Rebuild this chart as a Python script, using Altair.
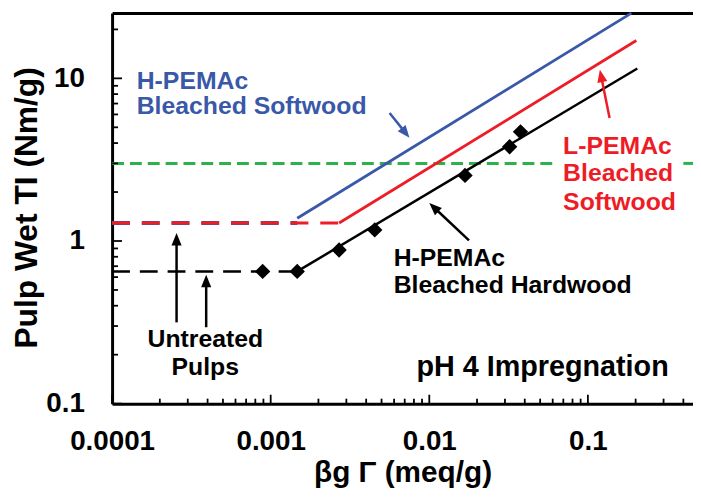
import math
import altair as alt
import pandas as pd

# ---------------- data ----------------
# untreated hardwood (black dashed)
hw_dash_x = [0.0001, 0.00147]
hw_dash_y = [0.65, 0.65]
# H-PEMAc bleached hardwood (black solid)
hw_line_x = [0.00147, 0.205]
hw_line_y = [0.65, 11.5]
hw_pts_x = [0.00089, 0.00147, 0.0027, 0.00453, 0.0168, 0.0321, 0.0376]
hw_pts_y = [0.65, 0.65, 0.88, 1.17, 2.53, 3.8, 4.69]
# untreated softwood (red / blue dashed)
sw_dash_red_x = [0.0001, 0.0027]
sw_dash_blue_x = [0.0001, 0.00147]
sw_dash_y = [1.29, 1.29]
# L-PEMAc bleached softwood (red solid)
lsw_line_x = [0.0027, 0.202]
lsw_line_y = [1.29, 17.1]
# H-PEMAc bleached softwood (blue solid)
hsw_line_x = [0.00147, 0.188]
hsw_line_y = [1.38, 25.2]
# green dashed reference level (two pieces, interrupted by label)
green_x = [0.0001, 0.0596, 0.40, 0.46]
green_y = [3.0, 3.0, 3.0, 3.0]
green_seg = [1, 1, 2, 2]

# arrows: tail -> tip
arrow_x0 = [0.000255, 0.000392, 0.00562, 0.137, 0.0178]
arrow_y0 = [0.316, 0.295, 6.12, 5.7, 1.01]
arrow_x1 = [0.000255, 0.000392, 0.0075, 0.119, 0.0100]
arrow_y1 = [1.12, 0.62, 4.31, 11.3, 1.71]
arrow_col = ["black", "black", "blue", "red", "black"]

# annotations
ann_text = ["H-PEMAc", "Bleached Softwood", "L-PEMAc", "Bleached", "Softwood",
            "H-PEMAc", "Bleached Hardwood", "Untreated", "Pulps"]
ann_x = [0.000143, 0.000143, 0.0698, 0.0698, 0.0698,
         0.00596, 0.00596, 0.000387, 0.000387]
ann_y = [9.59, 6.75, 3.85, 2.60, 1.73, 0.787, 0.539, 0.249, 0.168]
ann_col = ["blue", "blue", "red", "red", "red", "black", "black", "black", "black"]
ann_align = ["left", "left", "left", "left", "left", "left", "left", "center", "center"]
ph_text = ["pH 4 Impregnation"]
ph_x = [0.0083]
ph_y = [0.168]

x_major = [0.0001, 0.001, 0.01, 0.1]
x_minor = [m * d for d in [0.0001, 0.001, 0.01, 0.1] for m in range(2, 10) if m * d <= 0.46]
y_major = [0.1, 1, 10]
y_minor = [m * d for d in [0.1, 1, 10] for m in range(2, 10) if m * d <= 25.2]

# ---------------- style ----------------
COL = {"black": "#000000", "blue": "#3A58A8", "red": "#EE1C25", "green": "#2BB24C"}
FONT = "Liberation Sans"
W, H = 586, 394
XMIN, XMAX = 0.0001, 0.46
YMIN, YMAX = 0.1, 25.2
LX = W / math.log10(XMAX / XMIN)
LY = H / math.log10(YMAX / YMIN)

xs = alt.Scale(type="log", domain=[XMIN, XMAX], nice=False)
ys = alt.Scale(type="log", domain=[YMIN, YMAX], nice=False)

# ---------------- derived tables ----------------
def seg_df(xv, yv, grp=None):
    d = pd.DataFrame({"x": xv, "y": yv})
    d["g"] = grp if grp is not None else [0] * len(xv)
    return d

def heading(x0, y0, x1, y1):
    dx = (math.log10(x1) - math.log10(x0)) * LX
    dy = -(math.log10(y1) - math.log10(y0)) * LY
    return math.degrees(math.atan2(dx, -dy)) % 360

rows = []
for x0, y0, x1, y1, c in zip(arrow_x0, arrow_y0, arrow_x1, arrow_y1, arrow_col):
    ang = heading(x0, y0, x1, y1)
    lx0, ly0, lx1, ly1 = math.log10(x0), math.log10(y0), math.log10(x1), math.log10(y1)
    dxp, dyp = (lx1 - lx0) * LX, (ly1 - ly0) * LY
    L = math.hypot(dxp, dyp)
    back = 8.0 / L
    xe = 10 ** (lx1 - (lx1 - lx0) * back)
    ye = 10 ** (ly1 - (ly1 - ly0) * back)
    rows.append({"x0": x0, "y0": y0, "xe": xe, "ye": ye, "x1": x1, "y1": y1,
                 "ang": ang, "col": COL[c]})
arrows = pd.DataFrame(rows)

ann = pd.DataFrame({"t": ann_text, "x": ann_x, "y": ann_y,
                    "col": [COL[c] for c in ann_col], "al": ann_align})
ph = pd.DataFrame({"t": ph_text, "x": ph_x, "y": ph_y})
pts = pd.DataFrame({"x": hw_pts_x, "y": hw_pts_y})

# inward tick segments: start on the axis line, end a few pixels inside
def xtick_df(values, length):
    return pd.DataFrame({"x": values, "y": [YMIN] * len(values),
                         "y2": [10 ** (math.log10(YMIN) + length / LY)] * len(values)})

def ytick_df(values, length):
    return pd.DataFrame({"y": values, "x": [XMIN] * len(values),
                         "x2": [10 ** (math.log10(XMIN) + length / LX)] * len(values)})

xt = pd.concat([xtick_df(x_minor, 5), xtick_df(x_major, 9)], ignore_index=True)
yt = pd.concat([ytick_df(y_minor, 6), ytick_df(y_major, 10)], ignore_index=True)

# ---------------- axes ----------------
x_main = alt.Axis(orient="bottom", values=x_major, format="~g", ticks=False, tickSize=0,
                  domain=True, domainColor="black", domainWidth=3, grid=False,
                  labelFont=FONT, labelFontSize=28, labelFontWeight="bold", labelColor="black",
                  labelPadding=24, labelFlush=False, labelOverlap=False,
                  title="βg Γ (meq/g)", titleFont=FONT, titleFontSize=30, titleFontWeight="bold",
                  titleColor="black", titleX=W / 2, titleY=79, titleBaseline="alphabetic",
                  titleAlign="center")
y_main = alt.Axis(orient="left", values=y_major, format="~g", ticks=False, tickSize=0,
                  domain=True, domainColor="black", domainWidth=3, grid=False,
                  labelFont=FONT, labelFontSize=28, labelFontWeight="bold", labelColor="black",
                  labelPadding=28, labelFlush=False, labelOverlap=False, labelBaseline="middle",
                  title="Pulp Wet TI (Nm/g)", titleFont=FONT, titleFontSize=32, titleFontWeight="bold",
                  titleColor="black", titleX=-76, titleY=196, titleAngle=270,
                  titleBaseline="alphabetic", titleAlign="center")
x_top = alt.Axis(orient="top", labels=False, ticks=False, domain=True, domainColor="black",
                 domainWidth=3, grid=False, title=None)

# ---------------- layers ----------------
green = alt.Chart(seg_df(green_x, green_y, green_seg)).mark_line(
    color=COL["green"], strokeWidth=3, strokeDash=[12, 6]).encode(
    x=alt.X("x:Q", scale=xs, axis=x_main), y=alt.Y("y:Q", scale=ys, axis=y_main),
    detail="g:N")

blue_dash = alt.Chart(seg_df(sw_dash_blue_x, sw_dash_y)).mark_line(
    color=COL["blue"], strokeWidth=4, strokeDash=[18, 12]).encode(
    x=alt.X("x:Q", scale=xs, axis=x_top), y=alt.Y("y:Q", scale=ys, axis=None))

red_dash = alt.Chart(seg_df(sw_dash_red_x, sw_dash_y)).mark_line(
    color=COL["red"], strokeWidth=3.2, strokeDash=[18, 12]).encode(
    x=alt.X("x:Q", scale=xs, axis=None), y=alt.Y("y:Q", scale=ys, axis=None))

blue_line = alt.Chart(seg_df(hsw_line_x, hsw_line_y)).mark_line(
    color=COL["blue"], strokeWidth=2.8).encode(
    x=alt.X("x:Q", scale=xs, axis=None), y=alt.Y("y:Q", scale=ys, axis=None))

red_line = alt.Chart(seg_df(lsw_line_x, lsw_line_y)).mark_line(
    color=COL["red"], strokeWidth=2.8).encode(
    x=alt.X("x:Q", scale=xs, axis=None), y=alt.Y("y:Q", scale=ys, axis=None))

black_dash = alt.Chart(seg_df(hw_dash_x, hw_dash_y)).mark_line(
    color="black", strokeWidth=2.5, strokeDash=[18, 10]).encode(
    x=alt.X("x:Q", scale=xs, axis=None), y=alt.Y("y:Q", scale=ys, axis=None))

black_line = alt.Chart(seg_df(hw_line_x, hw_line_y)).mark_line(
    color="black", strokeWidth=2.5).encode(
    x=alt.X("x:Q", scale=xs, axis=None), y=alt.Y("y:Q", scale=ys, axis=None))

diamonds = alt.Chart(pts).mark_point(
    shape="diamond", filled=True, color="black", opacity=1, size=240).encode(
    x=alt.X("x:Q", scale=xs, axis=None), y=alt.Y("y:Q", scale=ys, axis=None))

arrow_shafts = alt.Chart(arrows).mark_rule(strokeWidth=2.5).encode(
    x=alt.X("x0:Q", scale=xs, axis=None), y=alt.Y("y0:Q", scale=ys, axis=None),
    x2="xe:Q", y2="ye:Q", color=alt.Color("col:N", scale=None))

arrow_heads = alt.Chart(arrows).mark_point(
    shape="M0,0L0.85,2.1L-0.85,2.1Z", filled=True, opacity=1, size=144).encode(
    x=alt.X("x1:Q", scale=xs, axis=None), y=alt.Y("y1:Q", scale=ys, axis=None),
    angle=alt.Angle("ang:Q", scale=None), color=alt.Color("col:N", scale=None))

x_tick_marks = alt.Chart(xt).mark_rule(color="black", strokeWidth=1.8).encode(
    x=alt.X("x:Q", scale=xs, axis=None), y=alt.Y("y:Q", scale=ys, axis=None), y2="y2:Q")

y_tick_marks = alt.Chart(yt).mark_rule(color="black", strokeWidth=1.8).encode(
    y=alt.Y("y:Q", scale=ys, axis=None), x=alt.X("x:Q", scale=xs, axis=None), x2="x2:Q")

labels_left = alt.Chart(ann).transform_filter("datum.al == 'left'").mark_text(
    font=FONT, fontSize=25, fontWeight="bold", align="left", baseline="middle").encode(
    x=alt.X("x:Q", scale=xs, axis=None), y=alt.Y("y:Q", scale=ys, axis=None),
    text="t:N", color=alt.Color("col:N", scale=None))

labels_center = alt.Chart(ann).transform_filter("datum.al == 'center'").mark_text(
    font=FONT, fontSize=25, fontWeight="bold", align="center", baseline="middle").encode(
    x=alt.X("x:Q", scale=xs, axis=None), y=alt.Y("y:Q", scale=ys, axis=None),
    text="t:N", color=alt.Color("col:N", scale=None))

ph_label = alt.Chart(ph).mark_text(
    font=FONT, fontSize=29, fontWeight="bold", align="left", baseline="middle",
    color="black").encode(
    x=alt.X("x:Q", scale=xs, axis=None), y=alt.Y("y:Q", scale=ys, axis=None), text="t:N")

chart = alt.layer(
    green, blue_dash, red_dash, blue_line, red_line, black_dash, black_line,
    diamonds, arrow_shafts, arrow_heads, x_tick_marks, y_tick_marks,
    labels_left, labels_center, ph_label
).resolve_axis(x="independent", y="independent").properties(
    width=W, height=H,
    autosize=alt.AutoSizeParams(type="none"),
    padding={"left": 105, "top": 3, "right": 0, "bottom": 85},
    background="white",
).configure_view(stroke=None)

chart.save("out.html", embed_options={"renderer": "svg", "actions": False})
